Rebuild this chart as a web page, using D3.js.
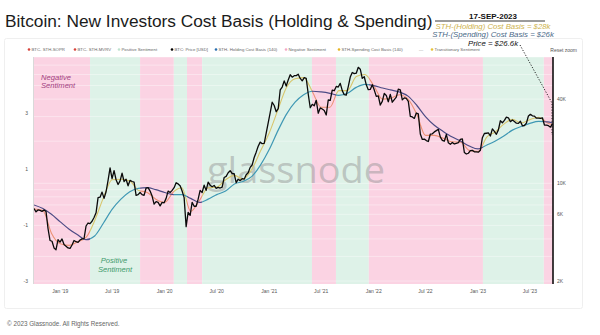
<!DOCTYPE html>
<html><head><meta charset="utf-8">
<script src="https://cdn.jsdelivr.net/npm/d3@7"></script>
<style>body{margin:0;background:#fff;} svg{display:block;font-family:"Liberation Sans",Arial,sans-serif;}</style>
</head><body><svg id="c" width="600" height="335"></svg>
<script>
// ---------------- DATA ----------------
const titleText = "Bitcoin: New Investors Cost Basis (Holding & Spending)";
const priceStart = "2018-10-01"; // weekly closes, Mondays
const priceValues = [
 6600,6250,6450,6400,6300,6450,6300,4750,3900,3850,3450,3350,3950,3800,
 4000,3650,3550,3450,3420,3620,3900,3820,3780,3930,4000,4020,4950,5200,5150,5350,5700,6150,7900,7950,8650,7800,8700,10500,12900,10800,12300,10600,9800,10400,11800,10300,10700,9600,10500,10300,10200,8200,8300,8600,8300,8200,9250,9300,8800,8100,7100,7400,7300,6900,7300,7250,
 7800,8800,8600,8900,9300,10100,9900,9600,8800,7900,4900,6200,5900,7300,6850,6850,7700,8900,8600,9700,8900,10200,9700,9450,9650,9200,9350,9250,9400,11000,11200,11900,12300,11750,11700,10100,10700,10450,10800,10700,11500,11900,13000,13550,15300,16700,18400,19700,19200,19300,22800,27000,
 32000,38000,36000,32500,34200,46500,48800,54000,49600,54800,59700,57400,58800,58900,60300,56200,54000,57000,56300,43500,34700,36700,35800,39200,31700,34600,34000,33200,30800,39400,39200,46300,45900,49300,48800,51800,46000,43000,42800,49200,57500,62000,60800,61300,67500,65500,56300,57800,50600,46700,46900,50700,
 46400,41800,42200,36300,38500,43900,42500,38300,43200,38000,39700,41300,47100,46600,39500,40800,40400,38500,30100,29800,29100,31800,31400,22500,20600,20700,20200,19900,22500,22600,23300,23800,24300,21400,20300,20000,22400,19500,19000,19600,19100,19300,19500,20600,20800,16600,16200,16400,17100,17200,16800,16800,
 16700,17200,21200,22700,22800,22900,21800,24500,23500,22400,24100,28000,27100,28200,29700,29400,27600,28400,27700,26900,26800,27800,25800,25900,26900,30300,31100,30400,30200,29200,29200,29100,29400,26100,26100,25800,25200,26600
];
const costBasisStart = "2018-10-01"; // monthly, first of month, last = 17-Sep-2023
const costBasisLastDate = "2023-09-17";
// STH Spending cost basis (fast line)
const spendingCostBasis = [
 6550,6400,4400,
 3700,3600,3800,4100,5400,7900,10600,10700,10400,8900,8600,7700,
 7300,8700,9300,6300,7500,9300,9400,10600,11400,10700,12600,17000,
 23000,34000,48000,56000,57000,45000,35000,35000,46000,46000,58000,60000,
 50000,40000,40500,43000,40000,31000,22000,22000,21000,19800,19700,17200,
 16900,21500,23200,26500,28700,27000,28500,29700,27000,26300
];
// STH Holding cost basis (slow line)
const holdingCostBasis = [
 7000,6600,6000,
 5300,4700,4300,3950,4200,5200,6500,7700,8700,9200,9300,9000,
 8600,8300,8300,7800,7300,7700,8300,8800,9900,10300,11200,13500,
 17500,24000,31000,38000,43000,45500,45000,44000,42500,44000,48500,51000,
 50000,48000,46500,45000,42000,36000,30000,26000,23500,21500,20000,18500,
 17600,18800,20000,21800,24000,25500,26800,27700,27500,27100
];
const zoneStarts = ["2018-10-01","2019-04-15","2019-10-07","2020-02-02","2020-03-19","2020-05-11","2021-05-30","2021-08-22","2021-12-15","2023-01-18","2023-08-19"];
const zoneTypes  = ["neg","pos","neg","pos","neg","pos","neg","pos","neg","pos","neg"];
const domainStart = "2018-10-01", domainEnd = "2023-09-20";
const leftTicks = [3,1,-1,-3];
const rightTicks = [40000,10000,6000,2000];
const rightTickLabels = ["40K","10K","6K","2K"];
const xTickDates = ["2019-01-01","2019-07-01","2020-01-01","2020-07-01","2021-01-01","2021-07-01","2022-01-01","2022-07-01","2023-01-01","2023-07-01"];
const xTickLabels = ["Jan '19","Jul '19","Jan '20","Jul '20","Jan '21","Jul '21","Jan '22","Jul '22","Jan '23","Jul '23"];
const legendLabels = ["BTC- STH-SOPR","BTC- STH-MVRV","Positive Sentiment","BTC: Price [USD]","STH- Holding Cost Basis (140)","Negative Sentiment","STH-Spending Cost Basis (140)","—","Transitionary Sentiment"];
const legendColors = ["#d8433c","#d8433c","#bfe3cf","#000000","#2a6fb0","#f3a9c6","#e6b422",null,"#e6c23a"];
const annDate = "17-SEP-2023";
const annLines = ["STH-(Holding) Cost Basis = $28k","STH-(Spending) Cost Basis = $26k","Price = $26.6k"];

// ---------------- LAYOUT ----------------
const P = {left:34, right:553, top:57, bottom:284};
const legendX = [29,75,119,172,216,286,339,419,432];
const svg = d3.select("#c");
const parse = d3.utcParse("%Y-%m-%d");

const x = d3.scaleUtc().domain([parse(domainStart), parse(domainEnd)]).range([P.left, P.right]);
const yR = d3.scaleLog().domain([1905, 80000]).range([P.bottom, P.top]);
const yL = d3.scaleLinear().domain([-3.1, 5]).range([P.bottom, P.top]);

// panel
svg.append("rect").attr("x",4.5).attr("y",38.5).attr("width",578).attr("height",270).attr("rx",2)
  .attr("fill","#fff").attr("stroke","#efefef");

// title
svg.append("text").attr("x",5).attr("y",27).attr("font-size",17.3).attr("fill","#1b1b1b").text(titleText);

// zones
const zones = zoneStarts.map((s,i)=>({start:parse(s), end:parse(zoneStarts[i+1]||domainEnd), type:zoneTypes[i]}));
const zoneFill = {pos:"#def2e8", neg:"#fbd3e3"};
svg.append("g").selectAll("rect").data(zones).join("rect")
  .attr("x",d=>x(d.start)).attr("width",d=>x(d.end)-x(d.start))
  .attr("y",P.top).attr("height",P.bottom-P.top).attr("fill",d=>zoneFill[d.type]);

const defs = svg.append("defs");
["pos","neg"].forEach(t=>{
  defs.append("clipPath").attr("id","clip-"+t).selectAll("rect").data(zones.filter(z=>z.type===t)).join("rect")
    .attr("x",d=>x(d.start)).attr("width",d=>x(d.end)-x(d.start)).attr("y",P.top-10).attr("height",P.bottom-P.top+20);
});

// grid (log)
const gridVals = yR.ticks(20).filter(v=>v>=2000 && v<=80000);
svg.append("g").selectAll("line").data(gridVals).join("line")
  .attr("x1",P.left).attr("x2",P.right).attr("y1",d=>yR(d)).attr("y2",d=>yR(d))
  .attr("stroke","#ffffff").attr("stroke-opacity",0.55).attr("stroke-width",0.7);

// watermark
svg.append("text").attr("x",207).attr("y",183).attr("font-family","'Open Sans',sans-serif").attr("font-size",36)
  .attr("textLength",178).attr("lengthAdjust","spacingAndGlyphs")
  .attr("fill","#8f8f8f").attr("fill-opacity",0.45).text("glassnode");

// sentiment labels
const neg = svg.append("text").attr("font-size",7.6).attr("font-style","italic").attr("fill","#a3417f");
neg.append("tspan").attr("x",41).attr("y",79.5).text("Negative");
neg.append("tspan").attr("x",41).attr("y",88).text("Sentiment");
const pos = svg.append("text").attr("font-size",7.6).attr("font-style","italic").attr("fill","#3f9a6c").attr("text-anchor","middle");
pos.append("tspan").attr("x",114).attr("y",263).text("Positive");
pos.append("tspan").attr("x",115).attr("y",272).text("Sentiment");

// series
const priceData = priceValues.map((v,i)=>({d:d3.utcDay.offset(parse(priceStart),7*i), v}));
const cbDates = d3.utcMonth.range(parse(costBasisStart), parse("2023-09-02")).concat([parse(costBasisLastDate)]);
const spendData = spendingCostBasis.map((v,i)=>({d:cbDates[i], v}));
const holdData = holdingCostBasis.map((v,i)=>({d:cbDates[i], v}));

const lineCurve = d3.line().x(d=>x(d.d)).y(d=>yR(d.v)).curve(d3.curveMonotoneX);
const lineSharp = d3.line().x(d=>x(d.d)).y(d=>yR(d.v));
function dual(data, gen, cPos, cNeg, w){
  svg.append("path").attr("d",gen(data)).attr("fill","none").attr("stroke",cPos).attr("stroke-width",w).attr("clip-path","url(#clip-pos)");
  svg.append("path").attr("d",gen(data)).attr("fill","none").attr("stroke",cNeg).attr("stroke-width",w).attr("clip-path","url(#clip-neg)");
}
dual(spendData, lineCurve, "#d8c56b", "#ec9275", 1.1);
dual(holdData, lineCurve, "#3f98b4", "#4d4b85", 1.2);
svg.append("path").attr("d",lineSharp(priceData)).attr("fill","none").attr("stroke","#0a0a0a").attr("stroke-width",1.3).attr("stroke-linejoin","round");

// left axis
svg.append("line").attr("x1",P.left-0.5).attr("x2",P.left-0.5).attr("y1",P.top).attr("y2",P.bottom).attr("stroke","#cfcfcf").attr("stroke-width",0.8);
svg.append("g").selectAll("text").data(leftTicks).join("text")
  .attr("x",28).attr("y",d=>yL(d)).attr("dy","0.35em").attr("text-anchor","end")
  .attr("font-size",5).attr("fill","#555").text(d=>d);

// right axis
svg.append("line").attr("x1",P.right).attr("x2",P.right).attr("y1",P.top).attr("y2",P.bottom).attr("stroke","#000").attr("stroke-width",1.5);
svg.append("g").selectAll("text").data(rightTicks).join("text")
  .attr("x",557).attr("y",d=>yR(d)).attr("dy","0.35em")
  .attr("font-size",5).attr("fill","#555").text((d,i)=>rightTickLabels[i]);

// x axis labels
svg.append("g").selectAll("text").data(xTickDates).join("text")
  .attr("x",d=>x(parse(d))).attr("y",293).attr("text-anchor","middle")
  .attr("font-size",5).attr("fill","#555").text((d,i)=>xTickLabels[i]);

// legend
const lg = svg.append("g");
legendLabels.forEach((t,i)=>{
  const lx = legendX[i];
  if(legendColors[i]){
    lg.append("circle").attr("cx",lx).attr("cy",49.5).attr("r",1.3).attr("fill",legendColors[i]);
    lg.append("text").attr("x",lx+2.5).attr("y",51).attr("font-size",4.3).attr("fill","#666").text(t);
  } else {
    lg.append("text").attr("x",lx).attr("y",51).attr("font-size",4.3).attr("fill","#888").text(t);
  }
});
svg.append("text").attr("x",577).attr("y",51.5).attr("text-anchor","end").attr("font-size",5).attr("fill","#555").text("Reset zoom");

// annotation
svg.append("text").attr("x",493).attr("y",19).attr("text-anchor","middle").attr("font-size",8).attr("font-weight","bold").attr("fill","#111").text(annDate);
svg.append("line").attr("x1",435).attr("x2",545).attr("y1",21).attr("y2",21).attr("stroke","#222").attr("stroke-width",0.9);
const annColors = ["#cdb24d","#4b6a88","#111"];
const annY = [28.5,37,45.5];
annLines.forEach((t,i)=>{
  svg.append("text").attr("x",493).attr("y",annY[i]).attr("text-anchor","middle").attr("font-size",7.8)
    .attr("font-style","italic").attr("fill",annColors[i]).text(t);
});
svg.append("path").attr("d","M520,45 L552,103 L552,135").attr("fill","none").attr("stroke","#111")
  .attr("stroke-width",0.9).attr("stroke-dasharray","1.2,1.6");

// footer
svg.append("text").attr("x",7).attr("y",326).attr("font-size",6.3).attr("fill","#666").text("© 2023 Glassnode. All Rights Reserved.");
</script></body></html>
